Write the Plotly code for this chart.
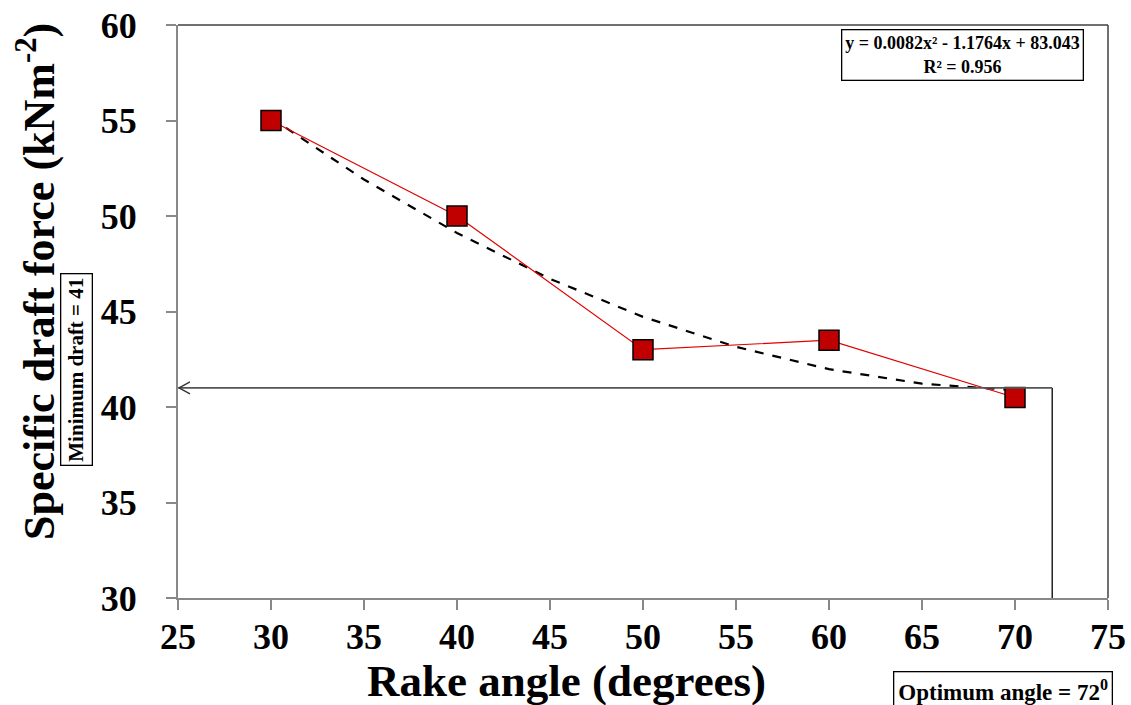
import plotly.graph_objects as go

rake_angle = [30, 40, 50, 60, 70]
draft_force = [55.0, 50.0, 43.0, 43.5, 40.5]

trend_x = [30, 35, 40, 45, 50, 55, 60, 65, 70]
trend_y = [55.13, 51.91, 49.11, 46.71, 44.72, 43.15, 41.98, 41.22, 40.88]

x_ticks = [25, 30, 35, 40, 45, 50, 55, 60, 65, 70, 75]
y_ticks = [30, 35, 40, 45, 50, 55, 60]

opt_angle = 72
min_draft = 41

FONT = "Liberation Serif"
L, R, T, B = 178, 23, 25, 107
W, H = 1131, 705
PW, PH = W - L - R, H - T - B

def px(xp):
    return (xp - L) / PW

def py(yp):
    return (H - B - yp) / PH

fig = go.Figure()
fig.add_trace(go.Scatter(
    x=trend_x, y=trend_y, mode="lines",
    line=dict(color="black", width=2.2, dash="dash"), showlegend=False))
fig.add_trace(go.Scatter(
    x=rake_angle, y=draft_force, mode="lines+markers",
    line=dict(color="#E00000", width=1.2),
    marker=dict(symbol="square", size=20, color="#C00000",
                line=dict(color="black", width=1.5)),
    showlegend=False))

# guide lines
fig.add_shape(type="line", x0=opt_angle, x1=opt_angle, y0=min_draft, y1=30,
              xref="x", yref="y", line=dict(color="black", width=1.3))
fig.add_shape(type="line", x0=25, x1=opt_angle, y0=min_draft, y1=min_draft,
              xref="x", yref="y", line=dict(color="#555555", width=1.6))
# open arrow head "<" at the left end
for dy in (6, -6):
    fig.add_shape(type="line", xref="x", yref="y",
                  xsizemode="pixel", xanchor=25, x0=1, x1=12,
                  ysizemode="pixel", yanchor=min_draft, y0=0, y1=dy,
                  line=dict(color="#333333", width=1.3))

# frame top and right
fig.add_shape(type="line", xref="paper", yref="paper", x0=0, x1=1, y0=1, y1=1,
              line=dict(color="#404040", width=1.5))
fig.add_shape(type="line", xref="paper", yref="paper", x0=1, x1=1, y0=0, y1=1,
              line=dict(color="#404040", width=1.5))

# axis titles
fig.add_annotation(xref="paper", yref="paper", x=px(566), y=py(681),
                   xanchor="center", yanchor="middle", showarrow=False,
                   text="Rake angle (degrees)",
                   font=dict(family=FONT, size=45, color="black", weight="bold"))
fig.add_annotation(xref="paper", yref="paper", x=px(36), y=py(282),
                   xanchor="center", yanchor="middle", showarrow=False, textangle=-90,
                   text="Specific draft force (kNm<sup>-2</sup>)",
                   font=dict(family=FONT, size=44, color="black", weight="bold"))

# text boxes
fig.add_annotation(xref="paper", yref="paper", x=px(962), y=py(55),
                   xanchor="center", yanchor="middle",
                   text="y = 0.0082x² - 1.1764x + 83.043<br>R² = 0.956",
                   showarrow=False, font=dict(family=FONT, size=18, color="black", weight="bold"),
                   bordercolor="black", borderwidth=1.3, bgcolor="white", borderpad=3,
                   align="center")
fig.add_annotation(xref="paper", yref="paper", x=px(76), y=py(370),
                   xanchor="center", yanchor="middle",
                   text="Minimum draft = 41", textangle=-90,
                   showarrow=False, font=dict(family=FONT, size=21, color="black", weight="bold"),
                   bordercolor="black", borderwidth=1.3, bgcolor="white", borderpad=3)
fig.add_annotation(xref="paper", yref="paper", x=px(1003), y=py(690),
                   xanchor="center", yanchor="middle",
                   text="Optimum angle = 72<sup>0</sup>",
                   showarrow=False, font=dict(family=FONT, size=23, color="black", weight="bold"),
                   bordercolor="black", borderwidth=1.3, bgcolor="white", borderpad=4)

fig.update_layout(
    width=W, height=H,
    margin=dict(l=L, r=R, t=T, b=B, pad=0, autoexpand=False),
    plot_bgcolor="white", paper_bgcolor="white",
    font=dict(family=FONT, color="black"),
    xaxis=dict(range=[25, 75], tickvals=x_ticks, ticktext=[str(v) for v in x_ticks],
               automargin=False,
               showgrid=False, zeroline=False, showline=True, linecolor="#888888", linewidth=2,
               ticks="outside", ticklen=10, tickcolor="#888888", tickwidth=1.5,
               ticklabelstandoff=-4,
               tickfont=dict(family=FONT, size=36, color="black", weight="bold")),
    yaxis=dict(range=[30, 60], tickvals=y_ticks, ticktext=[str(v) for v in y_ticks],
               automargin=False,
               showgrid=False, zeroline=False, showline=True, linecolor="#888888", linewidth=2,
               ticks="outside", ticklen=10, tickcolor="#888888", tickwidth=1.5,
               ticklabelstandoff=22,
               tickfont=dict(family=FONT, size=36, color="black", weight="bold")),
)

fig.write_html("out.html")
